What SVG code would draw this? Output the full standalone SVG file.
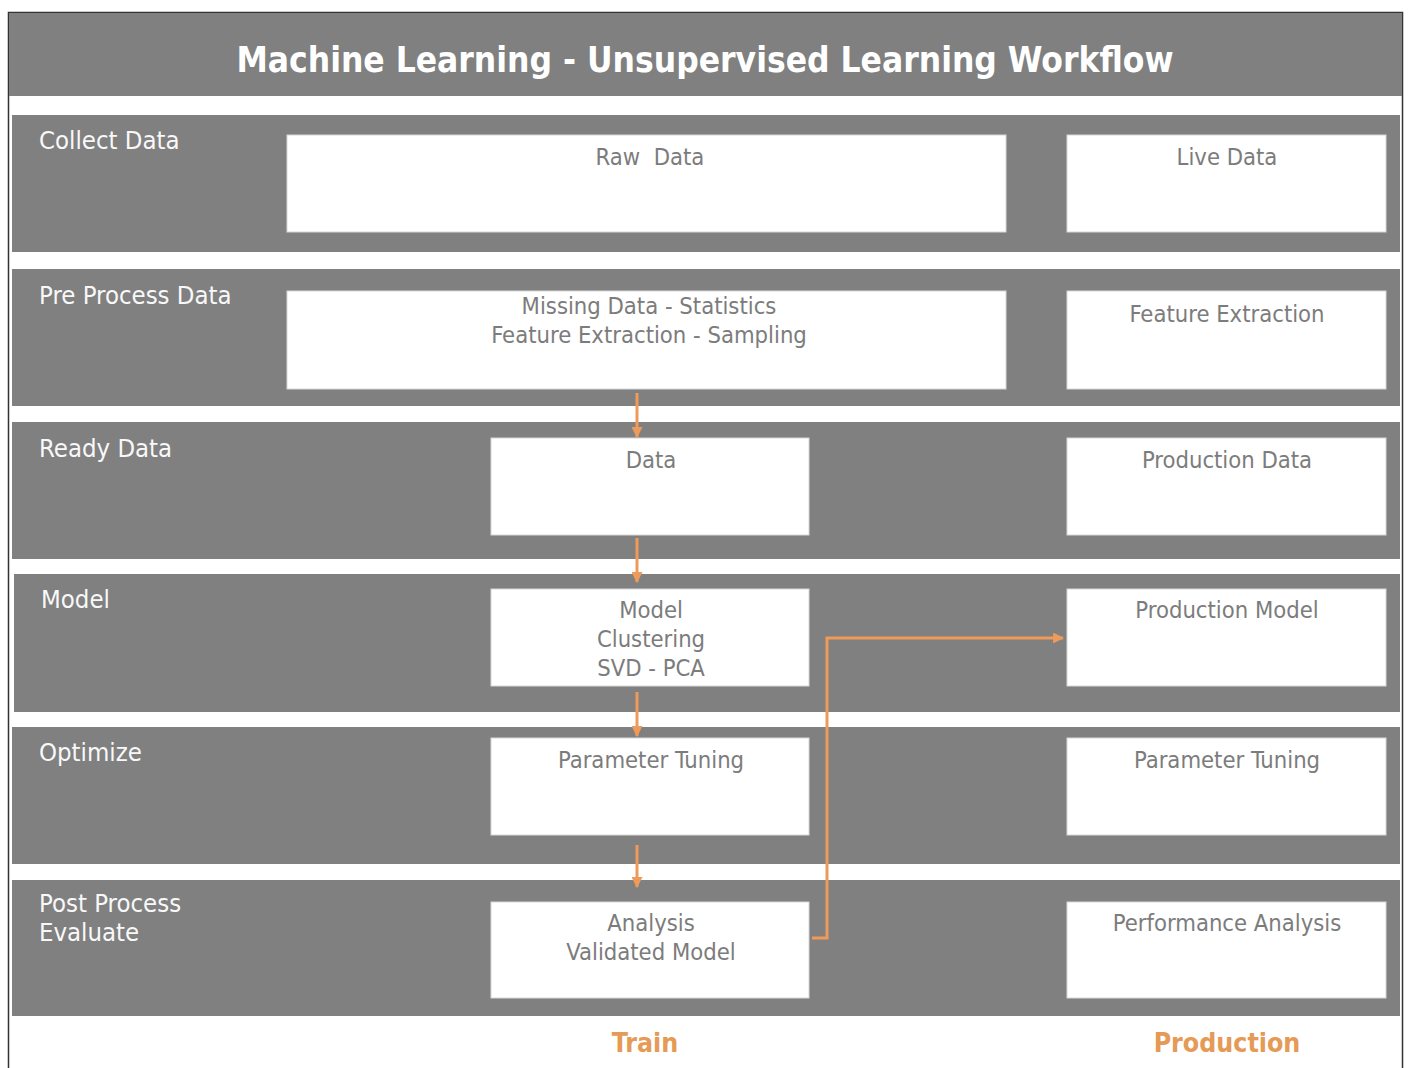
<svg xmlns="http://www.w3.org/2000/svg" width="1408" height="1068" viewBox="0 0 1408 1068">
<defs>
<marker id="ah" viewBox="0 0 10 10" refX="9" refY="5" markerWidth="11" markerHeight="11" markerUnits="userSpaceOnUse" orient="auto">
<path d="M0,0 L10,5 L0,10 Z" fill="#EE9A5A"/>
</marker>
<style>
.band{fill:#808080;}
.box{fill:#ffffff;stroke:#d8d8d8;stroke-width:1;}
.lbl{font-family:"DejaVu Sans Condensed","DejaVu Sans",sans-serif;font-stretch:condensed;font-size:25.5px;fill:#f8f8f8;}
.bt{font-family:"DejaVu Sans Condensed","DejaVu Sans",sans-serif;font-stretch:condensed;font-size:23.6px;fill:#7c7c7c;text-anchor:middle;white-space:pre;}
.title{font-family:"DejaVu Sans Condensed","DejaVu Sans",sans-serif;font-stretch:condensed;font-weight:bold;font-size:35px;fill:#ffffff;text-anchor:middle;}
.foot{font-family:"DejaVu Sans Condensed","DejaVu Sans",sans-serif;font-stretch:condensed;font-weight:bold;font-size:26.5px;fill:#E59A55;text-anchor:middle;}
.conn{fill:none;stroke:#EE9A5A;stroke-width:3;}
</style>
</defs>
<rect x="0" y="0" width="1408" height="1068" fill="#ffffff"/>
<rect x="8.5" y="12.5" width="1394" height="1070" fill="#ffffff" stroke="#333333" stroke-width="1.5"/>
<g id="title">
<rect x="9" y="13" width="1393" height="83" class="band"/>
<text x="705" y="72" class="title">Machine Learning - Unsupervised Learning Workflow</text>
</g>
<g id="bands">
<rect x="12" y="115" width="1388" height="137" class="band"/>
<rect x="12" y="269" width="1388" height="137" class="band"/>
<rect x="12" y="422" width="1388" height="137" class="band"/>
<rect x="14" y="574" width="1386" height="138" class="band"/>
<rect x="12" y="727" width="1388" height="137" class="band"/>
<rect x="12" y="880" width="1388" height="136" class="band"/>
<text x="39" y="149" class="lbl">Collect Data</text>
<text x="39" y="304" class="lbl">Pre Process Data</text>
<text x="39" y="457" class="lbl">Ready Data</text>
<text x="41" y="608" class="lbl">Model</text>
<text x="39" y="761" class="lbl">Optimize</text>
<text x="39" y="912" class="lbl">Post Process</text>
<text x="39" y="941" class="lbl">Evaluate</text>
</g>
<g id="raw-data"><rect x="287" y="135" width="719" height="97" class="box"/><text x="650" y="165" class="bt" xml:space="preserve">Raw  Data</text></g>
<g id="live-data"><rect x="1067" y="135" width="319" height="97" class="box"/><text x="1227" y="165" class="bt">Live Data</text></g>
<g id="preprocess"><rect x="287" y="291" width="719" height="98" class="box"/><text x="649" y="314" class="bt">Missing Data - Statistics</text><text x="649" y="343" class="bt">Feature Extraction - Sampling</text></g>
<g id="feature-extraction"><rect x="1067" y="291" width="319" height="98" class="box"/><text x="1227" y="322" class="bt">Feature Extraction</text></g>
<g id="data"><rect x="491" y="438" width="318" height="97" class="box"/><text x="651" y="468" class="bt">Data</text></g>
<g id="production-data"><rect x="1067" y="438" width="319" height="97" class="box"/><text x="1227" y="468" class="bt">Production Data</text></g>
<g id="model"><rect x="491" y="589" width="318" height="97" class="box"/><text x="651" y="618" class="bt">Model</text><text x="651" y="647" class="bt">Clustering</text><text x="651" y="676" class="bt">SVD - PCA</text></g>
<g id="production-model"><rect x="1067" y="589" width="319" height="97" class="box"/><text x="1227" y="618" class="bt">Production Model</text></g>
<g id="parameter-tuning"><rect x="491" y="738" width="318" height="97" class="box"/><text x="651" y="768" class="bt">Parameter Tuning</text></g>
<g id="parameter-tuning-prod"><rect x="1067" y="738" width="319" height="97" class="box"/><text x="1227" y="768" class="bt">Parameter Tuning</text></g>
<g id="analysis"><rect x="491" y="902" width="318" height="96" class="box"/><text x="651" y="931" class="bt">Analysis</text><text x="651" y="960" class="bt">Validated Model</text></g>
<g id="performance-analysis"><rect x="1067" y="902" width="319" height="96" class="box"/><text x="1227" y="931" class="bt">Performance Analysis</text></g>
<g id="connectors">
<line x1="637" y1="393" x2="637" y2="437" class="conn" marker-end="url(#ah)"/>
<line x1="637" y1="538" x2="637" y2="582" class="conn" marker-end="url(#ah)"/>
<line x1="637" y1="692" x2="637" y2="736" class="conn" marker-end="url(#ah)"/>
<line x1="637" y1="845" x2="637" y2="887" class="conn" marker-end="url(#ah)"/>
<polyline points="812,938 827,938 827,638 1063,638" class="conn" marker-end="url(#ah)"/>
</g>
<g id="footer">
<text x="645" y="1052" class="foot">Train</text>
<text x="1227" y="1052" class="foot">Production</text>
</g>
</svg>
